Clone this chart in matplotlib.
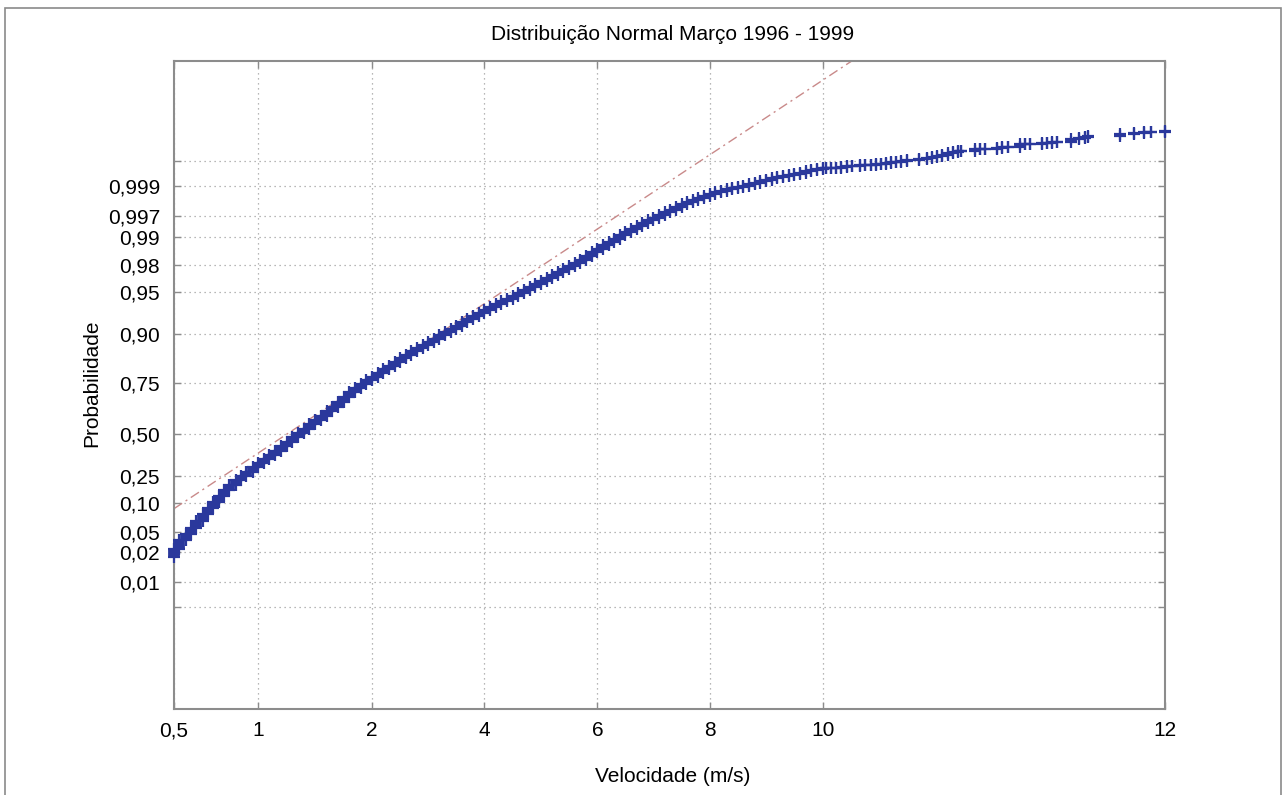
import numpy as np
import matplotlib
matplotlib.use('Agg')
import matplotlib.pyplot as plt
from matplotlib.patches import Rectangle

plt.rcParams['font.family'] = ['Liberation Sans', 'DejaVu Sans']

# wind speed classes (m/s) and cumulative probability at top of each class
speed = [0.50, 0.53, 0.57, 0.60, 0.63, 0.67, 0.70, 0.73, 0.77, 0.80, 0.83, 0.87,
         0.90, 0.93, 0.97, 1.00,
         1.05, 1.10, 1.15, 1.20, 1.25, 1.30, 1.35, 1.40, 1.45, 1.50, 1.55, 1.60,
         1.65, 1.70, 1.75, 1.80, 1.85, 1.90, 1.95, 2.00,
         2.1, 2.2, 2.3, 2.4, 2.5, 2.6, 2.7, 2.8, 2.9, 3.0,
         3.1, 3.2, 3.3, 3.4, 3.5, 3.6, 3.7, 3.8, 3.9, 4.0,
         4.1, 4.2, 4.3, 4.4, 4.5, 4.6, 4.7, 4.8, 4.9, 5.0,
         5.1, 5.2, 5.3, 5.4, 5.5, 5.6, 5.7, 5.8, 5.9, 6.0,
         6.1, 6.2, 6.3, 6.4, 6.5, 6.6, 6.7, 6.8, 6.9, 7.0,
         7.1, 7.2, 7.3, 7.4, 7.5, 7.6, 7.7, 7.8, 7.9, 8.0,
         8.1, 8.2, 8.3, 8.4, 8.5, 8.6, 8.7, 8.8, 8.9, 9.0,
         9.1, 9.2, 9.3, 9.4, 9.5, 9.6, 9.7, 9.8, 9.9, 10.0,
         10.02, 10.05, 10.08, 10.11, 10.14, 10.17, 10.22, 10.25, 10.28, 10.31,
         10.34, 10.37, 10.40, 10.43, 10.46, 10.49, 10.56, 10.61, 10.64, 10.67,
         10.70, 10.73, 10.76, 10.79, 10.81, 10.89, 10.92, 10.95, 11.02, 11.05,
         11.08, 11.15, 11.18, 11.21, 11.28, 11.31, 11.34, 11.37, 11.45, 11.50,
         11.53, 11.55, 11.74, 11.82, 11.88, 11.92, 12.00]
prob = [0.0245, 0.038, 0.047, 0.057, 0.068, 0.080, 0.091, 0.105, 0.138, 0.168,
        0.197, 0.226, 0.248, 0.273, 0.299, 0.324,
        0.348, 0.372, 0.397, 0.424, 0.452, 0.479, 0.504, 0.525, 0.546, 0.568,
        0.590, 0.612, 0.635, 0.657, 0.681, 0.706, 0.730, 0.749, 0.760, 0.771,
        0.782, 0.794, 0.805, 0.816, 0.827, 0.838, 0.848, 0.858, 0.868, 0.877,
        0.887, 0.897, 0.9026, 0.9064, 0.9104, 0.9142, 0.918, 0.9218, 0.9256, 0.9292,
        0.9325, 0.9358, 0.9393, 0.9426, 0.946, 0.9493, 0.9528, 0.9562, 0.9597, 0.9631,
        0.9664, 0.9698, 0.973, 0.9759, 0.9789, 0.9807, 0.982, 0.9833, 0.9846, 0.9859,
        0.9871, 0.9883, 0.9895, 0.9907, 0.9918, 0.9929, 0.9938, 0.9947, 0.9956, 0.9965,
        0.99708, 0.99725, 0.99743, 0.99761, 0.9978, 0.99795, 0.9981, 0.99824, 0.99837, 0.99849,
        0.9986, 0.99871, 0.99881, 0.9989, 0.99895, 0.999018, 0.999076, 0.99913, 0.999184, 0.999238,
        0.999281, 0.999324, 0.999371, 0.99941, 0.99945, 0.99949, 0.999529, 0.999565, 0.999605, 0.999641,
        0.999645, 0.99965, 0.99967, 0.999691, 0.999713, 0.999731, 0.999752, 0.999756, 0.999774, 0.999792,
        0.99981, 0.999824, 0.999853, 0.999886, 0.9999005, 0.9999008, 0.9999018, 0.9999032, 0.9999041, 0.999905,
        0.9999065, 0.9999079, 0.9999094, 0.9999102, 0.9999105, 0.9999117, 0.999912, 0.9999123, 0.9999129, 0.9999137,
        0.9999145, 0.9999167, 0.9999171, 0.9999174, 0.999918, 0.9999184, 0.9999187, 0.9999191, 0.9999218, 0.9999235,
        0.9999244, 0.9999252, 0.999927, 0.999928, 0.999929, 0.999929, 0.99993]
prob_start = 0.0183   # bottom of the first class

# reference normal line
fit_speed = [0.5, 10.17]
fit_prob = [0.0897, 1.0]

x_ticks = [0.5, 1, 2, 4, 6, 8, 10, 12]
x_labels = ['0,5', '1', '2', '4', '6', '8', '10', '12']
y_ticks = [0.001, 0.01, 0.02, 0.05, 0.10, 0.25, 0.50, 0.75, 0.90, 0.95,
           0.98, 0.99, 0.997, 0.999, 0.9999]
y_labels = ['', '0,01', '0,02', '0,05', '0,10', '0,25', '0,50', '0,75', '0,90',
            '0,95', '0,98', '0,99', '0,997', '0,999', '']

# probability paper: value -> distance along the axis
x_anchor = [0.5, 1, 2, 4, 6, 8, 10, 12]
x_dist = [0, 84, 198, 310, 423, 535, 648, 990]
y_anchor = [0.0, 0.001, 0.01, 0.02, 0.05, 0.10, 0.25, 0.50, 0.75, 0.90, 0.95,
            0.98, 0.99, 0.997, 0.999, 0.9999, 1.0]
y_dist = [0, 102, 127, 157, 177, 206, 233, 275, 325, 374, 416,
          443, 471, 492, 522, 547, 647]


def fx(v):
    return np.interp(v, x_anchor, x_dist)


def fx_inv(d):
    return np.interp(d, x_dist, x_anchor)


def fy(p):
    return np.interp(p, y_anchor, y_dist)


def fy_inv(d):
    return np.interp(d, y_dist, y_anchor)


BLUE = '#2a389c'
GREY = '#8c8c8c'

fig = plt.figure(figsize=(12.86, 7.95), dpi=100)
ax = fig.add_axes([174 / 1286, 1 - 709 / 795, 991 / 1286, 648 / 795])
ax.set_xscale('function', functions=(fx, fx_inv))
ax.set_yscale('function', functions=(fy, fy_inv))
ax.set_xlim(0.5, 12)
ax.set_ylim(0.0, 1.0)

ax.plot(fit_speed, fit_prob, color='#c98a8a', lw=1.0,
        linestyle=(0, (7, 3, 1.5, 3)), zorder=2)

lo = [prob_start] + prob[:-1]
ax.vlines(speed, lo, prob, colors=BLUE, linewidth=8.5, clip_on=False, zorder=3)
ax.plot(speed, prob, '+', ms=9, mew=1.6, color=BLUE, clip_on=False, zorder=3)
ax.plot(speed, lo, '+', ms=9, mew=1.6, color=BLUE, clip_on=False, zorder=3)

ax.set_xticks(x_ticks)
ax.set_xticklabels(x_labels)
ax.set_yticks(y_ticks)
ax.set_yticklabels(y_labels)
ax.minorticks_off()
ax.tick_params(direction='in', length=5, width=1, color=GREY, top=True,
               right=True, labelsize=15)
ax.tick_params(axis='y', pad=10)
ax.tick_params(axis='x', pad=9)
ax.grid(True, color='#a0a0a0', linestyle=(0, (1, 3)), linewidth=0.9)
ax.set_axisbelow(True)
for s in ax.spines.values():
    s.set_color(GREY)
    s.set_linewidth(1.5)

fig.text(673 / 1286, 1 - 35 / 795, 'Distribuição Normal Março 1996 - 1999',
         ha='center', va='center', fontsize=15)
fig.text(673 / 1286, 1 - 776 / 795, 'Velocidade (m/s)',
         ha='center', va='center', fontsize=15)
fig.text(92 / 1286, 1 - 383 / 795, 'Probabilidade', rotation=90,
         ha='center', va='center', fontsize=15)

fig.add_artist(Rectangle((0.004, -0.01), 0.992, 1.0, transform=fig.transFigure,
                         fill=False, edgecolor='#8a8a8a', lw=1.2))

fig.savefig('out.png', dpi=100)
